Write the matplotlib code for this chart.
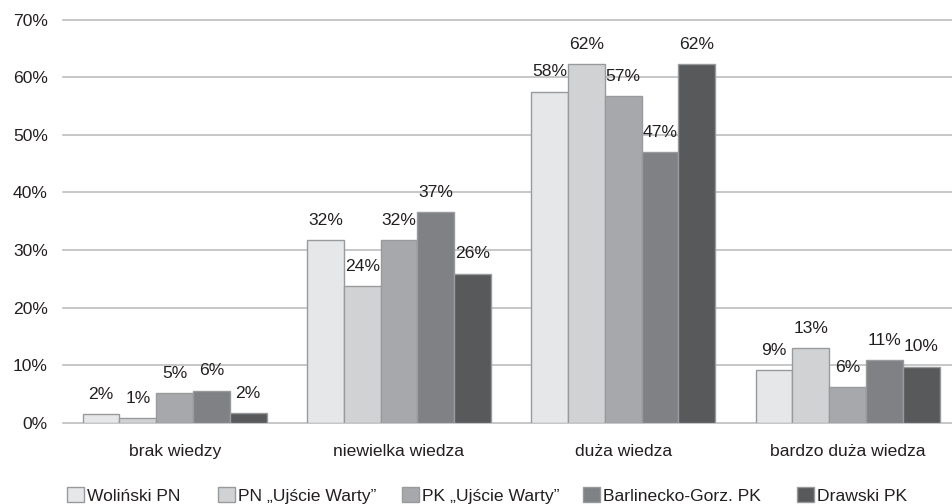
import numpy as np
import matplotlib
matplotlib.use("Agg")
import matplotlib.pyplot as plt

plt.rcParams['font.family'] = ['Liberation Sans', 'DejaVu Sans']

categories = ["brak wiedzy", "niewielka wiedza", "duża wiedza", "bardzo duża wiedza"]
series_names = ["Woliński PN", "PN \u201eUjście Warty\u201d", "PK \u201eUjście Warty\u201d",
                "Barlinecko-Gorz. PK", "Drawski PK"]
wolinski = [1.5, 31.7, 57.5, 9.2]
pn_ujscie = [0.9, 23.7, 62.2, 13.0]
pk_ujscie = [5.2, 31.7, 56.7, 6.2]
barlinecko = [5.6, 36.6, 47.0, 10.9]
drawski = [1.7, 25.9, 62.2, 9.8]
y_ticks = [0, 10, 20, 30, 40, 50, 60, 70]

series = [wolinski, pn_ujscie, pk_ujscie, barlinecko, drawski]
colors = ["#e6e7e9", "#d1d2d4", "#a7a8ab", "#808184", "#58595b"]
edge = "#999a9c"
text_color = "#231f20"
fs = 12.6

W, H = 952, 504
fig = plt.figure(figsize=(W / 100, H / 100), dpi=100)
ax = fig.add_axes([62.5 / W, (H - 423) / H, 1 - 62.5 / W, (423 - 19.5) / H])

x = np.arange(len(categories))
bw = 0.164
handles = []
for i, (vals, name, col) in enumerate(zip(series, series_names, colors)):
    pos = x + (i - 2) * bw
    bars = ax.bar(pos, vals, width=bw, color=col, edgecolor=edge, linewidth=1.0,
                  label=name, zorder=3)
    handles.append(bars)
    for xp, v in zip(pos, vals):
        ax.annotate(f"{v:.0f}%", (xp, v), xytext=(0, 11), textcoords="offset points",
                    ha="center", va="baseline", fontsize=fs, color=text_color, zorder=4)

ax.set_xlim(-0.5, -0.5 + (W - 62.5) / 224.3)
ax.set_ylim(0, 70)
ax.set_yticks(y_ticks)
ax.set_yticklabels([f"{t}%" for t in y_ticks], fontsize=fs, color=text_color)
ax.set_xticks(x)
ax.set_xticklabels(categories, fontsize=fs, color=text_color)
ax.tick_params(axis="y", length=0, pad=10.5)
ax.tick_params(axis="x", length=0, pad=15)
for s in ax.spines.values():
    s.set_visible(False)
ax.yaxis.grid(True, color="#bcbdbf", linewidth=1.2, zorder=0)
ax.set_axisbelow(True)
for gl in ax.get_ygridlines():
    gl.set_clip_on(False)

# legend entries laid out in fixed-width slots along the bottom edge
slot_left = [67, 218, 402, 583, 797]
for h, name, xl in zip(handles, series_names, slot_left):
    leg = fig.legend([h], [name], loc="center left", bbox_to_anchor=(xl / W, 8.5 / H),
                     frameon=False, fontsize=fs, handlelength=0.95, handleheight=0.95,
                     handletextpad=0.2, borderpad=0, borderaxespad=0,
                     labelcolor=text_color)

fig.savefig("out.png", dpi=100, facecolor="white")
